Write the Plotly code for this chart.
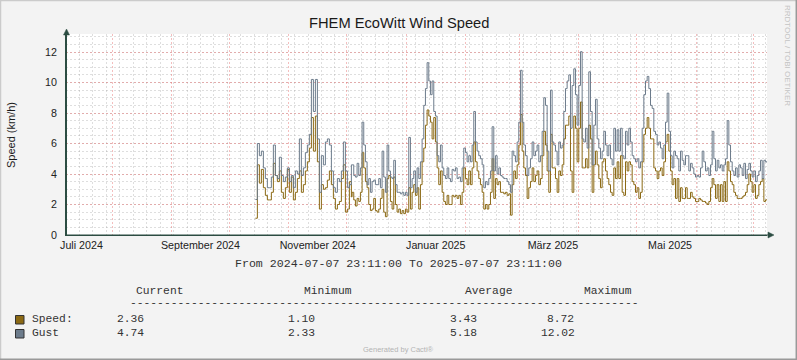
import plotly.graph_objects as go
import pandas as pd

# ---------------- data ----------------
X_START = "2024-07-07 23:11:00"
X_END = "2025-07-07 23:11:00"

# first block of samples (Oct - early Dec 2024)
speed_a = [1.10, 4.6, 3.4, 4.3, 3.1, 2.6, 2.3, 2.3, 2.8, 4.7, 3.9, 3.5, 4.2, 2.8, 2.4, 3.1,
           4.3, 2.8, 3.8, 2.3, 2.8, 3.7, 4.2, 2.8, 3.3, 4.2, 4.8, 5.7, 7.7, 5.5, 7.8, 4.8,
           1.7, 3.3, 3.0, 3.1, 3.6, 4.2, 3.3, 2.4, 1.7, 2.0, 2.2, 3.7, 4.6, 1.5, 1.7, 3.5, 2.5]
gust_a = [2.33, 6.0, 5.2, 5.5, 4.4, 3.7, 3.1, 3.1, 3.8, 5.9, 3.9, 3.7, 5.1, 3.9, 3.5, 3.8,
          4.4, 3.5, 3.9, 3.1, 4.2, 4.0, 6.3, 3.9, 4.4, 5.4, 5.9, 6.6, 10.2, 8.1, 10.2, 6.3,
          2.8, 5.2, 4.6, 6.1, 6.3, 5.9, 4.2, 3.1, 2.8, 3.7, 3.5, 4.2, 6.1, 4.2, 3.1, 3.3, 4.6]

speed_b = [2.8, 2.3, 1.9, 2.4, 2.2, 2.8, 5.4, 4.4, 3.5, 3.1, 2.0, 1.6, 1.7, 2.4, 1.6, 1.5,
           1.7, 2.4, 3.0, 1.5, 1.2, 3.7, 3.9, 2.2, 1.7, 3.8, 2.0, 1.5, 1.7, 1.4, 1.6, 1.4,
           1.7, 1.5, 3.1, 1.7, 2.8, 3.3, 2.6, 3.1, 1.7, 3.3, 4.8, 5.7, 7.2, 8.2, 7.8, 7.4,
           6.3, 7.7, 6.1, 4.4, 3.3, 4.2, 2.8, 2.2, 2.0, 2.6, 2.0, 2.0]
gust_b = [4.6, 3.9, 3.8, 4.7, 3.9, 4.4, 7.4, 5.9, 4.8, 3.3, 3.7, 2.8, 3.5, 3.6, 3.3, 3.3,
          3.7, 3.1, 5.5, 3.8, 2.8, 5.9, 4.2, 3.8, 3.7, 4.9, 3.3, 2.8, 2.8, 2.7, 2.8, 2.6,
          2.8, 2.6, 6.4, 3.1, 3.7, 4.2, 2.8, 4.4, 3.7, 4.8, 6.3, 8.5, 9.6, 11.3, 10.1, 9.2,
          10.1, 8.1, 7.8, 5.2, 4.8, 5.9, 4.4, 3.9, 3.7, 4.4, 3.7, 3.5]

speed_c = [2.6, 2.5, 2.6, 2.4, 2.6, 2.0, 2.8, 4.4, 3.7, 3.3, 4.2, 3.3, 4.4, 6.1, 4.8, 4.2,
           3.7, 3.3, 2.8, 1.7, 2.0, 1.7, 2.0, 2.8, 5.0, 2.4, 3.7, 3.3, 3.5, 2.8, 2.8, 2.7,
           2.8, 2.6, 2.7, 1.3, 3.3, 4.2, 3.7, 4.6, 5.9, 7.9, 5.5, 4.4, 3.9, 2.4, 3.1, 3.5,
           4.4, 3.5, 3.9, 4.2, 3.3, 3.7, 5.2, 6.8, 5.9, 4.2, 2.8, 6.6]
gust_c = [4.3, 4.2, 4.4, 3.7, 3.8, 3.5, 4.4, 5.7, 5.4, 4.8, 5.2, 4.8, 5.9, 8.1, 6.1, 5.5,
          5.2, 5.0, 4.6, 3.1, 3.5, 3.3, 3.7, 4.2, 7.1, 4.2, 5.2, 4.0, 4.4, 3.9, 3.8, 3.7,
          3.7, 3.5, 3.3, 2.8, 5.5, 5.2, 4.8, 6.1, 7.4, 10.8, 7.4, 5.9, 5.2, 3.9, 4.4, 5.0,
          6.1, 5.2, 5.5, 5.9, 4.8, 5.2, 6.8, 9.0, 8.5, 5.5, 4.2, 9.5]

speed_d = [4.4, 4.4, 3.7, 2.8, 4.2, 3.9, 4.6, 6.3, 7.2, 7.2, 7.8, 4.2, 2.8, 7.8, 7.0, 4.8,
           7.0, 8.72, 4.4, 4.4, 5.0, 4.4, 7.2, 6.3, 2.8, 4.6, 5.5, 4.6, 3.7, 3.1, 4.8, 5.0,
           4.2, 3.7, 3.3, 2.8, 2.6, 4.4, 3.7, 4.8, 3.7, 5.2, 2.8, 2.6, 4.8, 4.2, 4.8, 4.6,
           3.5, 3.3, 2.8, 3.1, 2.4, 2.8, 4.8, 6.6, 7.0, 7.7, 7.0, 6.3]
gust_d = [6.1, 5.9, 5.5, 4.6, 6.1, 5.7, 5.9, 8.1, 9.6, 10.1, 10.5, 7.0, 9.8, 10.9, 9.2, 7.2,
          9.8, 12.02, 6.3, 6.1, 7.0, 5.7, 10.7, 8.1, 4.6, 7.2, 8.9, 6.3, 5.7, 5.0, 5.5, 6.8,
          5.9, 5.2, 5.9, 5.0, 4.6, 7.0, 5.5, 6.9, 5.5, 7.0, 5.2, 5.0, 6.8, 5.9, 7.0, 6.1,
          5.2, 5.0, 4.8, 5.0, 4.4, 4.8, 7.0, 9.2, 10.1, 10.4, 9.6, 8.5]

speed_e = [6.3, 4.4, 4.2, 3.7, 4.2, 4.4, 3.9, 4.8, 6.1, 6.6, 5.5, 4.2, 3.3, 3.7, 2.4, 3.7,
           2.2, 3.1, 2.4, 2.4, 3.1, 2.4, 2.4, 2.8, 2.5, 2.4, 2.2, 2.2, 2.4, 2.3, 2.2, 2.2,
           2.1, 2.0, 2.2, 3.1, 3.7, 3.3, 2.4, 3.3, 2.2, 3.3, 2.2, 3.5, 2.2, 4.8, 4.2, 3.5,
           3.3, 2.8, 2.6, 2.4, 2.4, 2.4, 2.5, 2.6, 2.8, 3.3, 4.0, 3.5, 2.8, 3.3, 2.4, 2.6,
           3.3, 3.5, 3.7, 2.2, 2.3, 2.36]
gust_e = [8.3, 6.8, 6.6, 5.9, 6.1, 5.7, 5.0, 5.9, 7.4, 9.3, 6.8, 5.2, 4.4, 5.5, 5.2, 5.0,
          4.2, 5.5, 4.9, 4.6, 5.2, 5.2, 4.2, 4.7, 4.4, 4.0, 3.8, 3.9, 3.8, 4.4, 5.5, 4.8,
          4.2, 4.4, 3.9, 4.6, 6.8, 5.0, 4.2, 4.9, 4.4, 4.6, 4.2, 4.6, 5.0, 7.5, 5.9, 4.8,
          4.2, 3.9, 4.4, 3.8, 4.6, 4.4, 3.9, 4.7, 3.7, 4.3, 4.7, 4.2, 3.8, 4.2, 3.5, 3.9,
          4.2, 4.9, 3.7, 4.9, 4.8, 4.74]

START_A, STEP_A = "2024-10-14 13:30", "25h"
START_REST, STEP_REST = "2024-12-03 22:10", "1250min"

month_grid = pd.date_range("2024-08-01", "2025-07-01", freq="MS")
label_dates = ["2024-07-16", "2024-09-16", "2024-11-16", "2025-01-16 12:00",
               "2025-03-18 12:00", "2025-05-18 12:00"]
label_text = ["Juli 2024", "September 2024", "November 2024", "Januar 2025",
              "März 2025", "Mai 2025"]
y_ticks = [0, 2, 4, 6, 8, 10, 12]

legend_rows = [
    ("Speed:", "2.36", "1.10", "3.43", "8.72"),
    ("Gust", "4.74", "2.33", "5.18", "12.02"),
]

SPEED_COLOR = "#8B6914"
GUST_COLOR = "#6C7B8B"

# ---------------- build x positions ----------------
speed_rest = speed_b + speed_c + speed_d + speed_e
gust_rest = gust_b + gust_c + gust_d + gust_e
x_a = pd.date_range(START_A, periods=len(speed_a), freq=STEP_A)
x_rest = pd.date_range(START_REST, periods=len(speed_rest), freq=STEP_REST)
x_all = list(x_a) + list(x_rest)
speed_all = speed_a + speed_rest
gust_all = gust_a + gust_rest

W, H = 797, 360
L, R, T, B = 66, 30, 34, 125
PW, PH = W - L - R, H - T - B


def px(x):
    return (x - L) / PW


def py(y):
    return (H - B - y) / PH


fig = go.Figure()
fig.add_trace(go.Scatter(x=x_all, y=speed_all, mode="lines", line=dict(color=SPEED_COLOR, width=1.0, shape="hv"),
                         showlegend=False, hoverinfo="skip"))
fig.add_trace(go.Scatter(x=x_all, y=gust_all, mode="lines", line=dict(color=GUST_COLOR, width=1.0, shape="hv"),
                         showlegend=False, hoverinfo="skip"))
# invisible trace to activate xaxis2 (labels)
fig.add_trace(go.Scatter(x=[X_START, X_END], y=[0, 0], xaxis="x2", mode="lines",
                         line=dict(width=0), showlegend=False, hoverinfo="skip"))

AXIS = "#2C4D43"
MGRID = "rgba(230,110,110,0.45)"
GRID = "rgba(160,160,160,0.35)"

fig.update_layout(
    width=W, height=H,
    margin=dict(l=L, r=R, t=T, b=B, pad=0),
    paper_bgcolor="#F3F3F3",
    plot_bgcolor="#FFFFFF",
    font=dict(family="Liberation Sans, Arial, sans-serif", color="#222222"),
    xaxis=dict(
        type="date", range=[X_START, X_END],
        tickmode="array", tickvals=list(month_grid), showticklabels=False,
        showgrid=True, gridcolor=MGRID, griddash="2px,2px", gridwidth=1,
        ticks="", showline=True, linecolor=AXIS, linewidth=1, zeroline=False,
        minor=dict(tick0="2024-07-08", dtick=7 * 86400000, showgrid=True,
                   gridcolor=GRID, griddash="2px,2px", gridwidth=1),
    ),
    xaxis2=dict(
        type="date", range=[X_START, X_END], overlaying="x", anchor="y", side="bottom",
        tickmode="array", tickvals=label_dates, ticktext=label_text,
        showgrid=False, showline=False, zeroline=False, ticks="",
        tickfont=dict(size=10.7, color="#222222"), ticklabelstandoff=2,
    ),
    yaxis=dict(
        range=[0, 13.18], tickmode="array", tickvals=y_ticks,
        ticktext=[str(v) for v in y_ticks],
        showgrid=True, gridcolor=MGRID, griddash="2px,2px", gridwidth=1,
        showline=True, linecolor=AXIS, linewidth=1, zeroline=False, ticks="",
        tickfont=dict(size=10.7, color="#222222"), ticklabelstandoff=6,
        minor=dict(tick0=0, dtick=0.5, showgrid=True, gridcolor=GRID,
                   griddash="2px,2px", gridwidth=1),
    ),
)

shapes = []
# axis extensions and arrows
shapes.append(dict(type="line", xref="paper", yref="paper", x0=px(66.5), x1=px(66.5), y0=py(235), y1=py(32),
                   line=dict(color=AXIS, width=1)))
shapes.append(dict(type="path", xref="paper", yref="paper",
                   path=f"M {px(66.5)} {py(29)} L {px(63.5)} {py(35)} L {px(69.5)} {py(35)} Z",
                   fillcolor=AXIS, line=dict(color=AXIS, width=0.5)))
shapes.append(dict(type="line", xref="paper", yref="paper", x0=px(66), x1=px(770), y0=py(235), y1=py(235),
                   line=dict(color=AXIS, width=1)))
shapes.append(dict(type="path", xref="paper", yref="paper",
                   path=f"M {px(774)} {py(235)} L {px(768)} {py(232)} L {px(768)} {py(238)} Z",
                   fillcolor=AXIS, line=dict(color=AXIS, width=0.5)))
# frame
shapes.append(dict(type="line", xref="paper", yref="paper", x0=px(0.5), x1=px(0.5), y0=py(0), y1=py(360),
                   line=dict(color="#CBCBCB", width=1.5)))
shapes.append(dict(type="line", xref="paper", yref="paper", x0=px(0), x1=px(797), y0=py(0.5), y1=py(0.5),
                   line=dict(color="#CBCBCB", width=1.5)))
shapes.append(dict(type="line", xref="paper", yref="paper", x0=px(796.3), x1=px(796.3), y0=py(0), y1=py(360),
                   line=dict(color="#999999", width=1.5)))
shapes.append(dict(type="line", xref="paper", yref="paper", x0=px(0), x1=px(797), y0=py(359.3), y1=py(359.3),
                   line=dict(color="#999999", width=1.5)))
# legend color boxes
for (y0, y1), col in zip([(315.5, 324), (329.5, 338)], [SPEED_COLOR, GUST_COLOR]):
    shapes.append(dict(type="rect", xref="paper", yref="paper", x0=px(15.5), x1=px(24), y0=py(y1), y1=py(y0),
                       fillcolor=col, line=dict(color="#333333", width=1)))
fig.update_layout(shapes=shapes)

ann = []
MONO = "Liberation Mono, Courier New, monospace"
ann.append(dict(text="FHEM EcoWitt Wind Speed", x=px(398.5), y=py(22.5), xanchor="center", yanchor="middle",
                font=dict(size=14.7, color="#1A1A1A")))
ann.append(dict(text="Speed (km/h)", x=px(11), y=py(135), xanchor="center", yanchor="middle", textangle=-90,
                font=dict(size=11, color="#1A1A1A")))
ann.append(dict(text="RRDTOOL / TOBI OETIKER", x=px(787), y=py(56), xanchor="center", yanchor="middle",
                textangle=90, font=dict(size=8, color="#C4C4C4")))
ann.append(dict(text="From 2024-07-07 23:11:00 To 2025-07-07 23:11:00", x=px(398), y=py(263),
                xanchor="center", yanchor="middle", font=dict(family=MONO, size=11.6, color="#333333")))
for txt, xx in zip(["Current", "Minimum", "Average", "Maximum"], [135, 302.7, 464.3, 582.7]):
    ann.append(dict(text=txt, x=px(xx - 1), y=py(290.5), xanchor="left", yanchor="middle",
                    font=dict(family=MONO, size=11.3, color="#333333")))
ann.append(dict(text="-" * 75, x=px(127.5), y=py(302.5), xanchor="left", yanchor="middle",
                font=dict(family=MONO, size=11.3, color="#333333")))
col_x = [30.7, 116, 286.7, 449.3, 546.7]
for row, yy in zip(legend_rows, [319, 332.7]):
    for i, txt in enumerate(row):
        xx = col_x[i]
        if i == 4:
            xx = 573.5 - len(txt) * 6.78
        ann.append(dict(text=txt, x=px(xx - 1), y=py(yy), xanchor="left", yanchor="middle",
                        font=dict(family=MONO, size=11.3, color="#333333")))
ann.append(dict(text="Generated by Cacti®", x=px(398), y=py(349.5), xanchor="center", yanchor="middle",
                font=dict(size=7.5, color="#B4B4B4")))
for a in ann:
    a.update(xref="paper", yref="paper", showarrow=False)
fig.update_layout(annotations=ann)

fig.write_html("out.html", config={"displayModeBar": False},
               post_script="document.body.style.margin='0';document.body.style.padding='0';")
